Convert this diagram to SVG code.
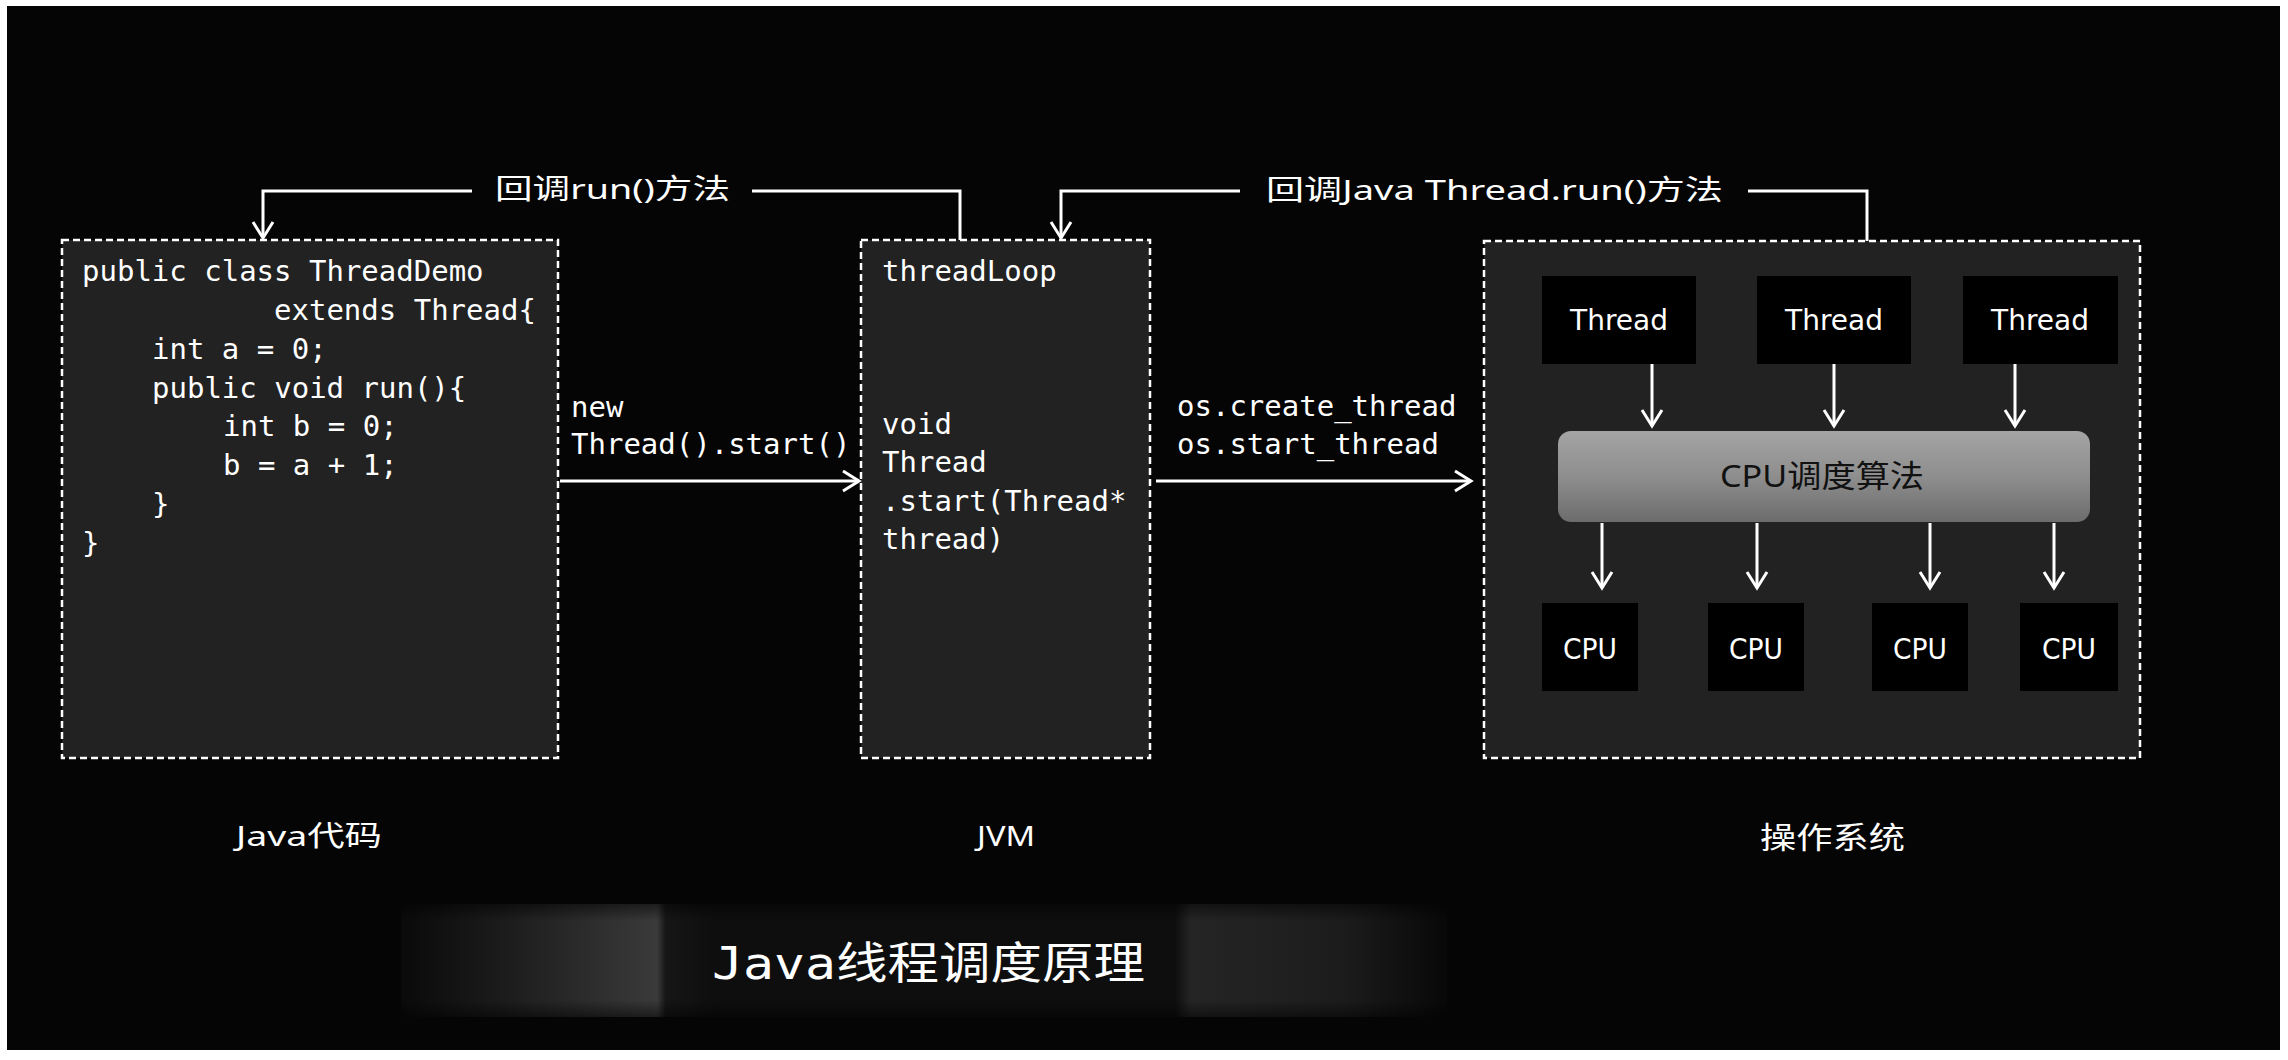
<svg xmlns="http://www.w3.org/2000/svg" width="2288" height="1060" viewBox="0 0 2288 1060">
  <style>
    .code { font-family: "DejaVu Sans Mono", "Liberation Mono", monospace; font-size: 29px; fill: #ffffff; }
    .lbl { font-family: "Noto Sans", "Noto Sans CJK SC", sans-serif; fill: #ffffff; }
    .cjk { font-family: "Noto Sans", "Noto Sans CJK SC", sans-serif; }
    .box { fill: #222222; stroke: #ffffff; stroke-width: 2.5; stroke-dasharray: 7 4; }
    .blk { fill: #000000; }
    .wl { stroke: #ffffff; stroke-width: 3; fill: none; }
    .nm { font-family: "DejaVu Sans", sans-serif; font-size: 28px; fill: #ffffff; text-anchor: middle; }
  </style>
  <defs>
    <marker id="ah" markerUnits="userSpaceOnUse" markerWidth="30" markerHeight="30" viewBox="-20 -15 24 30" refX="0" refY="0" orient="auto">
      <path d="M-16,-10 L0,0 L-16,10" fill="none" stroke="#ffffff" stroke-width="3"/>
    </marker>
    <linearGradient id="sched" x1="0" y1="0" x2="0" y2="1">
      <stop offset="0" stop-color="#a4a4a4"/>
      <stop offset="0.5" stop-color="#8e8e8e"/>
      <stop offset="1" stop-color="#6c6c6c"/>
    </linearGradient>
    <linearGradient id="band" x1="0" y1="0" x2="1" y2="0">
      <stop offset="0" stop-color="#0a0a0a"/>
      <stop offset="0.1" stop-color="#1c1c1c"/>
      <stop offset="0.245" stop-color="#3a3a3a"/>
      <stop offset="0.253" stop-color="#161616"/>
      <stop offset="0.3" stop-color="#0e0e0e"/>
      <stop offset="0.74" stop-color="#0e0e0e"/>
      <stop offset="0.755" stop-color="#252525"/>
      <stop offset="0.9" stop-color="#1c1c1c"/>
      <stop offset="1" stop-color="#080808"/>
    </linearGradient>
    <linearGradient id="bandv" x1="0" y1="0" x2="0" y2="1">
      <stop offset="0" stop-color="#000" stop-opacity="0.5"/>
      <stop offset="0.15" stop-color="#000" stop-opacity="0"/>
      <stop offset="0.85" stop-color="#000" stop-opacity="0"/>
      <stop offset="1" stop-color="#000" stop-opacity="0.5"/>
    </linearGradient>
  </defs>

  <rect x="0" y="0" width="2288" height="1060" fill="#ffffff"/>
  <rect x="7" y="6" width="2273" height="1044" fill="#050505"/>

  <!-- Java code box -->
  <g id="java-code">
    <rect class="box" x="62" y="240" width="496" height="518"/>
    <text class="code" x="82" y="281">public class ThreadDemo</text>
    <text class="code" x="274" y="320">extends Thread{</text>
    <text class="code" x="152" y="359">int a = 0;</text>
    <text class="code" x="152" y="398">public void run(){</text>
    <text class="code" x="223" y="436">int b = 0;</text>
    <text class="code" x="223" y="475">b = a + 1;</text>
    <text class="code" x="152" y="514">}</text>
    <text class="code" x="82" y="553">}</text>
    <text class="lbl" x="236" y="846" font-size="28" textLength="146" lengthAdjust="spacingAndGlyphs">Java代码</text>
  </g>

  <!-- JVM box -->
  <g id="jvm">
    <rect class="box" x="861" y="240" width="289" height="518"/>
    <text class="code" x="882" y="281">threadLoop</text>
    <text class="code" x="882" y="434">void</text>
    <text class="code" x="882" y="472">Thread</text>
    <text class="code" x="882" y="511">.start(Thread*</text>
    <text class="code" x="882" y="549">thread)</text>
    <text class="lbl" x="977" y="846" font-size="28" textLength="58" lengthAdjust="spacingAndGlyphs">JVM</text>
  </g>

  <!-- OS box -->
  <g id="os">
    <rect class="box" x="1484" y="241" width="656" height="517"/>
    <text class="lbl" x="1760" y="848" font-size="30" textLength="145" lengthAdjust="spacingAndGlyphs">操作系统</text>
  </g>

  <g id="thread1"><rect class="blk" x="1542" y="276" width="154" height="88"/><text class="nm" x="1619" y="330">Thread</text></g>
  <g id="thread2"><rect class="blk" x="1757" y="276" width="154" height="88"/><text class="nm" x="1834" y="330">Thread</text></g>
  <g id="thread3"><rect class="blk" x="1963" y="276" width="155" height="88"/><text class="nm" x="2040" y="330">Thread</text></g>

  <g id="scheduler">
    <rect x="1558" y="431" width="532" height="91" rx="13" fill="url(#sched)"/>
    <text class="cjk" x="1720" y="487" font-size="31" fill="#111111" textLength="204" lengthAdjust="spacingAndGlyphs">CPU调度算法</text>
  </g>

  <g id="cpu1"><rect class="blk" x="1542" y="603" width="96" height="88"/><text class="nm" x="1590" y="659" textLength="54" lengthAdjust="spacingAndGlyphs">CPU</text></g>
  <g id="cpu2"><rect class="blk" x="1708" y="603" width="96" height="88"/><text class="nm" x="1756" y="659" textLength="54" lengthAdjust="spacingAndGlyphs">CPU</text></g>
  <g id="cpu3"><rect class="blk" x="1872" y="603" width="96" height="88"/><text class="nm" x="1920" y="659" textLength="54" lengthAdjust="spacingAndGlyphs">CPU</text></g>
  <g id="cpu4"><rect class="blk" x="2020" y="603" width="98" height="88"/><text class="nm" x="2069" y="659" textLength="54" lengthAdjust="spacingAndGlyphs">CPU</text></g>

  <!-- Connectors -->
  <g id="connectors">
    <!-- callback run() -->
    <polyline class="wl" points="960,240 960,191 752,191"/>
    <polyline class="wl" points="472,191 263,191 263,238" marker-end="url(#ah)"/>
    <text class="lbl" x="495" y="199" font-size="28" textLength="235" lengthAdjust="spacingAndGlyphs">回调run()方法</text>
    <!-- callback Java Thread.run() -->
    <polyline class="wl" points="1867,241 1867,191 1748,191"/>
    <polyline class="wl" points="1240,191 1061,191 1061,238" marker-end="url(#ah)"/>
    <text class="lbl" x="1266" y="200" font-size="28" textLength="457" lengthAdjust="spacingAndGlyphs">回调Java Thread.run()方法</text>

    <!-- new Thread().start() -->
    <line class="wl" x1="560" y1="481" x2="859" y2="481" marker-end="url(#ah)"/>
    <text class="code" x="571" y="417">new</text>
    <text class="code" x="571" y="454">Thread().start()</text>

    <!-- os.create_thread -->
    <line class="wl" x1="1156" y1="481" x2="1471" y2="481" marker-end="url(#ah)"/>
    <text class="code" x="1177" y="416">os.create_thread</text>
    <text class="code" x="1177" y="454">os.start_thread</text>

    <!-- threads to scheduler -->
    <line class="wl" x1="1652" y1="364" x2="1652" y2="426" marker-end="url(#ah)"/>
    <line class="wl" x1="1834" y1="364" x2="1834" y2="426" marker-end="url(#ah)"/>
    <line class="wl" x1="2015" y1="364" x2="2015" y2="426" marker-end="url(#ah)"/>

    <!-- scheduler to CPUs -->
    <line class="wl" x1="1602" y1="523" x2="1602" y2="588" marker-end="url(#ah)"/>
    <line class="wl" x1="1757" y1="523" x2="1757" y2="588" marker-end="url(#ah)"/>
    <line class="wl" x1="1930" y1="523" x2="1930" y2="588" marker-end="url(#ah)"/>
    <line class="wl" x1="2054" y1="523" x2="2054" y2="588" marker-end="url(#ah)"/>
  </g>

  <!-- Title banner -->
  <g id="title">
    <rect x="401" y="904" width="1046" height="113" fill="url(#band)"/>
    <rect x="401" y="904" width="1046" height="113" fill="url(#bandv)"/>
    <text x="712" y="979" font-family="'DejaVu Sans Mono', 'Noto Sans CJK SC', monospace" font-size="44" fill="#ffffff" textLength="433" lengthAdjust="spacingAndGlyphs">Java线程调度原理</text>
  </g>
</svg>
